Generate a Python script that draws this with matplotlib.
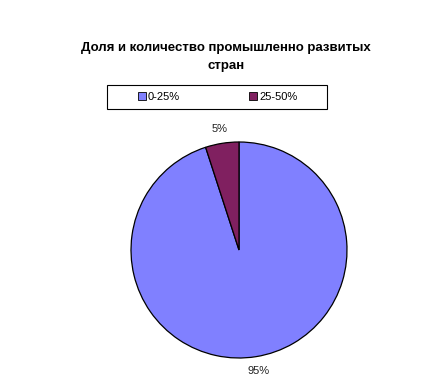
import matplotlib
matplotlib.use("Agg")
import matplotlib.pyplot as plt
from matplotlib.patches import Patch, Rectangle

plt.rcParams['font.family'] = ['Liberation Sans', 'DejaVu Sans']

categories = ["0-25%", "25-50%"]
shares = [95, 5]
colors = ["#8080FF", "#802060"]
title = "Доля и количество промышленно развитых\nстран"

W, H = 441, 385
fig = plt.figure(figsize=(W / 100, H / 100), dpi=100)
fig.patch.set_facecolor("white")

# pie area in pixels: center (239, 250), radius 108
cx, cy, r = 239, 250, 108
ax = fig.add_axes([(cx - r) / W, (H - cy - r) / H, 2 * r / W, 2 * r / H])
wedges, texts, autotexts = ax.pie(
    shares, colors=colors, startangle=90, counterclock=False,
    autopct="%d%%", pctdistance=1.13,
    wedgeprops=dict(edgecolor="black", linewidth=0.9),
    textprops=dict(fontsize=8, color="#222222"),
)
ax.set_xlim(-1, 1)
ax.set_ylim(-1, 1)
ax.set_aspect("equal")
ax.axis("off")

fig.text(226 / W, 1 - 57 / H, title, ha="center", va="center",
         fontsize=9.5, fontweight="bold", linespacing=1.7)

# legend box drawn separately, entries placed inside it
fig.patches.append(Rectangle((107 / W, 1 - 109 / H), 220 / W, 24 / H,
                             transform=fig.transFigure, facecolor="white",
                             edgecolor="black", linewidth=0.8))
handles = [Patch(facecolor=c, edgecolor="black", linewidth=0.6) for c in colors]
fig.legend(handles, categories, loc="center left", ncol=2,
           bbox_to_anchor=(138 / W, 1 - 97 / H),
           fontsize=8, frameon=False,
           handlelength=0.7, handleheight=0.7, handletextpad=0.2,
           columnspacing=6.2, borderaxespad=0, borderpad=0)

fig.savefig("out.png", dpi=100)
